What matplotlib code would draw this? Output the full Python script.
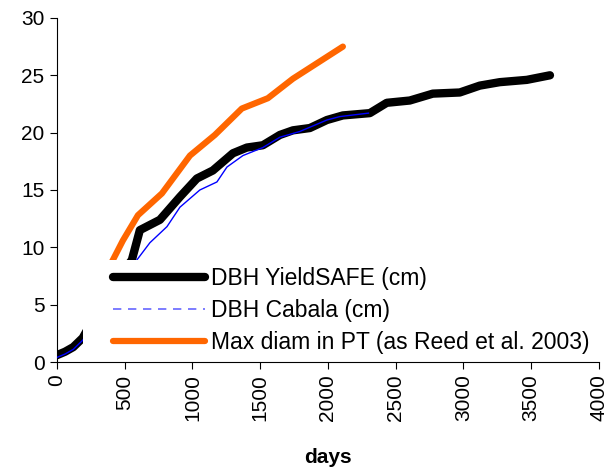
import matplotlib
matplotlib.use("Agg")
import matplotlib.pyplot as plt
import matplotlib.patches as mpatch

plt.rcParams.update({"font.family": ["Liberation Sans", "DejaVu Sans"], "font.size": 15})

# DBH simulated with YieldSAFE (cm)
ys_days = [0, 60, 120, 190, 400, 553, 612, 760, 908, 1033, 1151, 1299, 1402, 1520, 1646,
           1742, 1867, 1993, 2111, 2310, 2435, 2605, 2775, 2974, 3122, 3269, 3469, 3640]
ys_dbh = [0.6, 0.9, 1.3, 2.1, 6.5, 8.9, 11.5, 12.4, 14.4, 16.0, 16.7, 18.2, 18.7, 18.9, 19.8,
          20.2, 20.4, 21.1, 21.5, 21.7, 22.6, 22.8, 23.4, 23.5, 24.1, 24.4, 24.6, 25.0]

# DBH simulated with Cabala (cm)
cb_days = [0, 60, 120, 190, 420, 590, 686, 812, 908, 1055, 1181, 1255, 1373, 1520, 1646,
           1793, 1993, 2089, 2300]
cb_dbh = [0.4, 0.7, 1.1, 1.9, 5.5, 8.9, 10.4, 11.8, 13.5, 15.0, 15.7, 17.0, 18.0, 18.7, 19.6,
          20.1, 21.1, 21.4, 21.7]

# Max diameter in PT (Reed et al. 2003)
pt_days = [300, 413, 487, 598, 775, 982, 1166, 1365, 1557, 1742, 2111]
pt_dbh = [6.5, 8.9, 10.6, 12.8, 14.7, 18.0, 19.8, 22.1, 23.0, 24.7, 27.5]

labels = ["DBH YieldSAFE (cm)", "DBH Cabala (cm)", "Max diam in PT (as Reed et al. 2003)"]

fig = plt.figure(figsize=(6.06, 4.72), dpi=100)
ax = fig.add_axes([0.094, 0.233, 0.894, 0.729])

ax.plot(ys_days, ys_dbh, color="black", linewidth=6, solid_capstyle="round", zorder=2)
ax.plot(cb_days, cb_dbh, color="#0000FF", linewidth=1, zorder=3)
ax.plot(pt_days, pt_dbh, color="#FF6600", linewidth=4.5, solid_capstyle="round", zorder=2)

# Excel-style opaque legend area hiding the curves behind it
ax.add_patch(mpatch.Rectangle((0.048, 0.006), 0.952, 0.291, transform=ax.transAxes,
                              facecolor="white", edgecolor="none", zorder=4))

h_ys, = ax.plot([], [], color="black", linewidth=6, solid_capstyle="round")
h_cb, = ax.plot([], [], color="#6666FF", linewidth=1.2, linestyle=(0, (5, 4)))
h_pt, = ax.plot([], [], color="#FF6600", linewidth=4.5, solid_capstyle="round")
leg = ax.legend([h_ys, h_cb, h_pt], labels, loc="upper left", bbox_to_anchor=(0.091, 0.297),
                frameon=False, fontsize=16.5, handlelength=4.0, handletextpad=0.25,
                labelspacing=0.4, borderpad=0.3, borderaxespad=0.0)
leg.set_zorder(5)

ax.set_xlim(0, 4000)
ax.set_ylim(0, 30)
ax.set_xticks(range(0, 4001, 500))
ax.set_yticks(range(0, 31, 5))
ax.tick_params(axis="x", rotation=90, direction="out", length=5, pad=4)
ax.tick_params(axis="y", direction="out", length=5, pad=4)
ax.spines["top"].set_visible(False)
ax.spines["right"].set_visible(False)
ax.set_xlabel("days", fontweight="bold", labelpad=19)

fig.savefig("out.png", dpi=100)
